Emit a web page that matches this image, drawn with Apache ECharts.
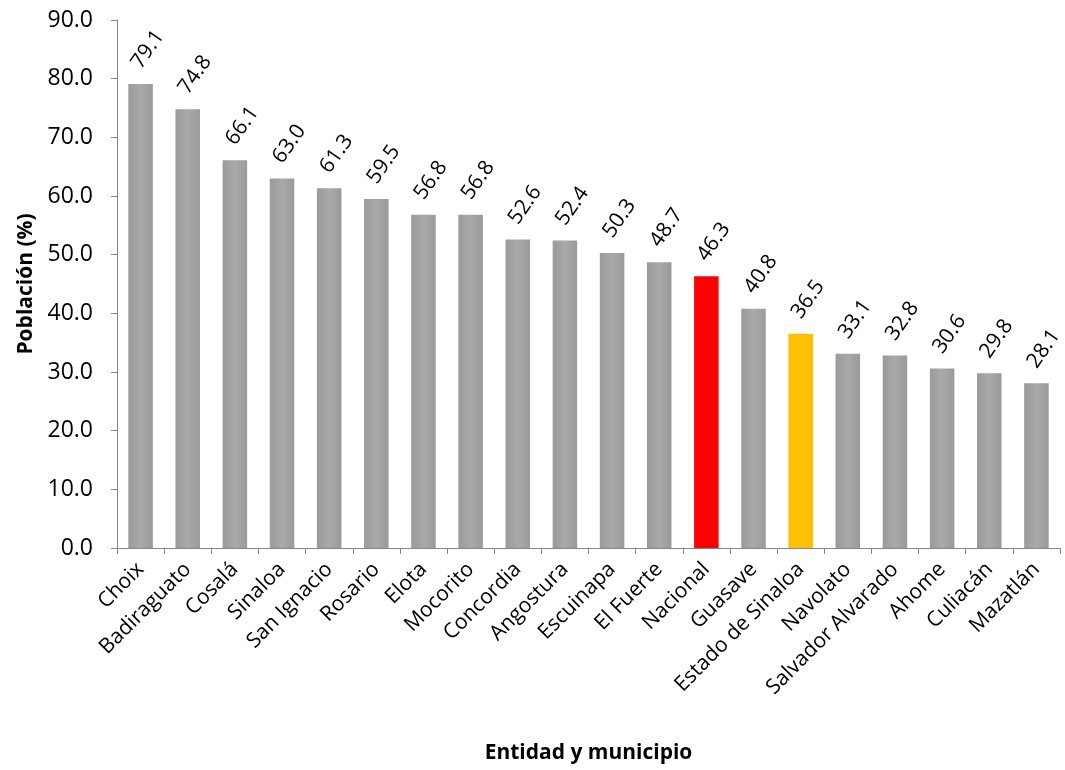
<!DOCTYPE html>
<html>
<head>
<meta charset="utf-8">
<script src="https://cdn.jsdelivr.net/npm/echarts@6/dist/echarts.min.js"></script>
<style>
  html, body { margin: 0; padding: 0; background: #fff; }
  #chart { width: 1065px; height: 770px; }
</style>
</head>
<body>
<div id="chart"></div>
<script>
const categories = ['Choix', 'Badiraguato', 'Cosalá', 'Sinaloa', 'San Ignacio', 'Rosario', 'Elota', 'Mocorito',
  'Concordia', 'Angostura', 'Escuinapa', 'El Fuerte', 'Nacional', 'Guasave', 'Estado de Sinaloa', 'Navolato',
  'Salvador Alvarado', 'Ahome', 'Culiacán', 'Mazatlán']
const values = [79.1, 74.8, 66.1, 63.0, 61.3, 59.5, 56.8, 56.8, 52.6, 52.4, 50.3, 48.7, 46.3, 40.8, 36.5, 33.1,
  32.8, 30.6, 29.8, 28.1]
const highlight = { 'Nacional': '#ff0000', 'Estado de Sinaloa': '#ffc000' }

const font = '"Open Sans", "Noto Sans", sans-serif'
const chart = echarts.init(document.getElementById('chart'))

// bars have a light vertical sheen like the office chart
const grayFill = new echarts.graphic.LinearGradient(0, 0, 1, 0, [
  { offset: 0, color: '#9a9a9a' },
  { offset: 0.5, color: '#a9a9a9' },
  { offset: 1, color: '#9a9a9a' },
])

chart.setOption({
  animation: false,
  grid: { left: 117, right: 5, top: 20, bottom: 222 },
  xAxis: {
    type: 'category',
    data: categories,
    name: 'Entidad y municipio',
    nameLocation: 'middle',
    nameGap: 195,
    nameTextStyle: { fontFamily: font, fontSize: 21, fontWeight: 'bold', color: '#000' },
    axisLine: { lineStyle: { color: '#868686', width: 1 } },
    axisTick: { show: true, alignWithLabel: false, length: 6, lineStyle: { color: '#868686' } },
    axisLabel: {
      rotate: 45, interval: 0, fontFamily: font, fontSize: 21, color: '#000', margin: 18,
    },
  },
  yAxis: {
    type: 'value',
    min: 0,
    max: 90,
    interval: 10,
    name: 'Población (%)',
    nameLocation: 'middle',
    nameGap: 80,
    nameTextStyle: { fontFamily: font, fontSize: 21, fontWeight: 'bold', color: '#000' },
    splitLine: { show: false },
    axisLine: { show: true, lineStyle: { color: '#868686', width: 1 } },
    axisTick: { show: true, length: 6, lineStyle: { color: '#868686' } },
    axisLabel: {
      fontFamily: font, fontSize: 23, color: '#000', margin: 24,
      formatter: (v) => v.toFixed(1),
    },
  },
  series: [
    {
      type: 'bar',
      barWidth: '52%',
      data: values.map((v, i) => ({
        value: v,
        itemStyle: { color: highlight[categories[i]] || grayFill },
      })),
      label: {
        show: true,
        position: 'top',
        rotate: 55,
        align: 'left',
        verticalAlign: 'middle',
        distance: 24,
        offset: [-8, 0],
        fontFamily: font,
        fontSize: 21,
        color: '#000',
        formatter: (p) => p.value.toFixed(1),
      },
    },
  ],
})
</script>
</body>
</html>
